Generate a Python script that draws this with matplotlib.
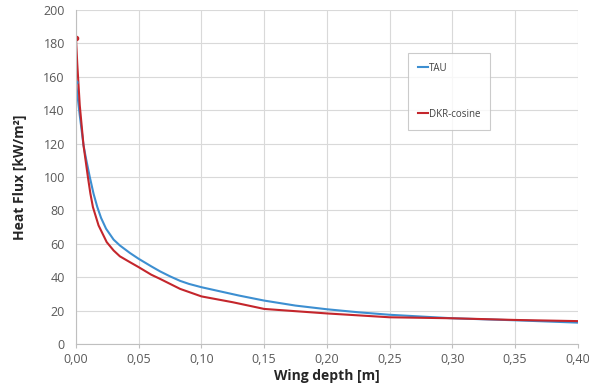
import matplotlib
matplotlib.use("Agg")
import matplotlib.pyplot as plt
from matplotlib.ticker import FuncFormatter, MultipleLocator

plt.rcParams['font.family'] = ['Open Sans', 'DejaVu Sans']

# TAU series
tau_x = [0.0, 0.001, 0.003, 0.006, 0.008, 0.011, 0.014, 0.017, 0.020, 0.024,
         0.030, 0.035, 0.043, 0.05, 0.06, 0.067, 0.075, 0.083, 0.09, 0.10,
         0.115, 0.13, 0.15, 0.175, 0.20, 0.225, 0.25, 0.30, 0.35, 0.40]
tau_y = [157, 150, 137, 119, 111, 100, 90, 82, 75.5, 69,
         62.5, 59, 54.5, 51, 46.5, 43.5, 40.5, 37.8, 36, 34,
         31.5, 29, 26, 23, 20.8, 19, 17.5, 15.4, 14.2, 12.8]

# DKR-cosine series
dkr_x = [0.0, 0.001, 0.003, 0.006, 0.0095, 0.0115, 0.0135, 0.018, 0.0245, 0.030,
         0.035, 0.043, 0.05, 0.06, 0.067, 0.075, 0.083, 0.10, 0.125, 0.15,
         0.20, 0.25, 0.30, 0.35, 0.40]
dkr_y = [183, 168, 143, 119, 100, 90, 82, 71, 61, 56,
         52.5, 49, 46, 41.5, 39, 36, 33, 28.5, 25, 21,
         18.3, 16, 15.4, 14.4, 13.7]

fig = plt.figure(figsize=(5.89, 3.85), dpi=100)
ax = fig.add_axes([0.129, 0.1065, 0.852, 0.8675])

ax.plot(tau_x, tau_y, color='#3d8fd1', lw=1.5, label='TAU')
ax.plot(dkr_x, dkr_y, color='#c4262c', lw=1.5, label='DKR-cosine')
ax.plot([dkr_x[0]], [dkr_y[0]], 'o', color='#c4262c', ms=3)
ax.plot([tau_x[0]], [tau_y[0]], 'o', color='#3d8fd1', ms=2)

ax.set_xlim(0, 0.40)
ax.set_ylim(0, 200)
ax.xaxis.set_major_locator(MultipleLocator(0.05))
ax.yaxis.set_major_locator(MultipleLocator(20))
ax.xaxis.set_major_formatter(FuncFormatter(lambda v, p: f"{v:.2f}".replace('.', ',')))
ax.yaxis.set_major_formatter(FuncFormatter(lambda v, p: f"{v:.0f}"))

ax.grid(True, color='#d9d9d9', lw=0.8)
ax.set_axisbelow(True)
for s in ['top', 'right']:
    ax.spines[s].set_visible(False)
for s in ['left', 'bottom']:
    ax.spines[s].set_color('#bfbfbf')
ax.tick_params(axis='both', colors='#bfbfbf', labelcolor='#595959', labelsize=9, length=3)
ax.tick_params(axis='y', length=0, pad=8)

ax.set_xlabel('Wing depth [m]', fontsize=10, fontweight='bold', color='#262626', labelpad=2)
ax.set_ylabel('Heat Flux [kW/m²]', fontsize=10, fontweight='bold', color='#262626', labelpad=12)

leg = fig.legend(loc='upper left', bbox_to_anchor=(0.693, 0.862), frameon=True,
                 fontsize=7, labelspacing=3.6, handlelength=1.0, handletextpad=0.1,
                 borderpad=1.0, fancybox=False, borderaxespad=0)
leg.get_frame().set_edgecolor('#bfbfbf')
leg.get_frame().set_linewidth(0.8)
for t in leg.get_texts():
    t.set_color('#404040')

fig.savefig('out.png', dpi=100)
